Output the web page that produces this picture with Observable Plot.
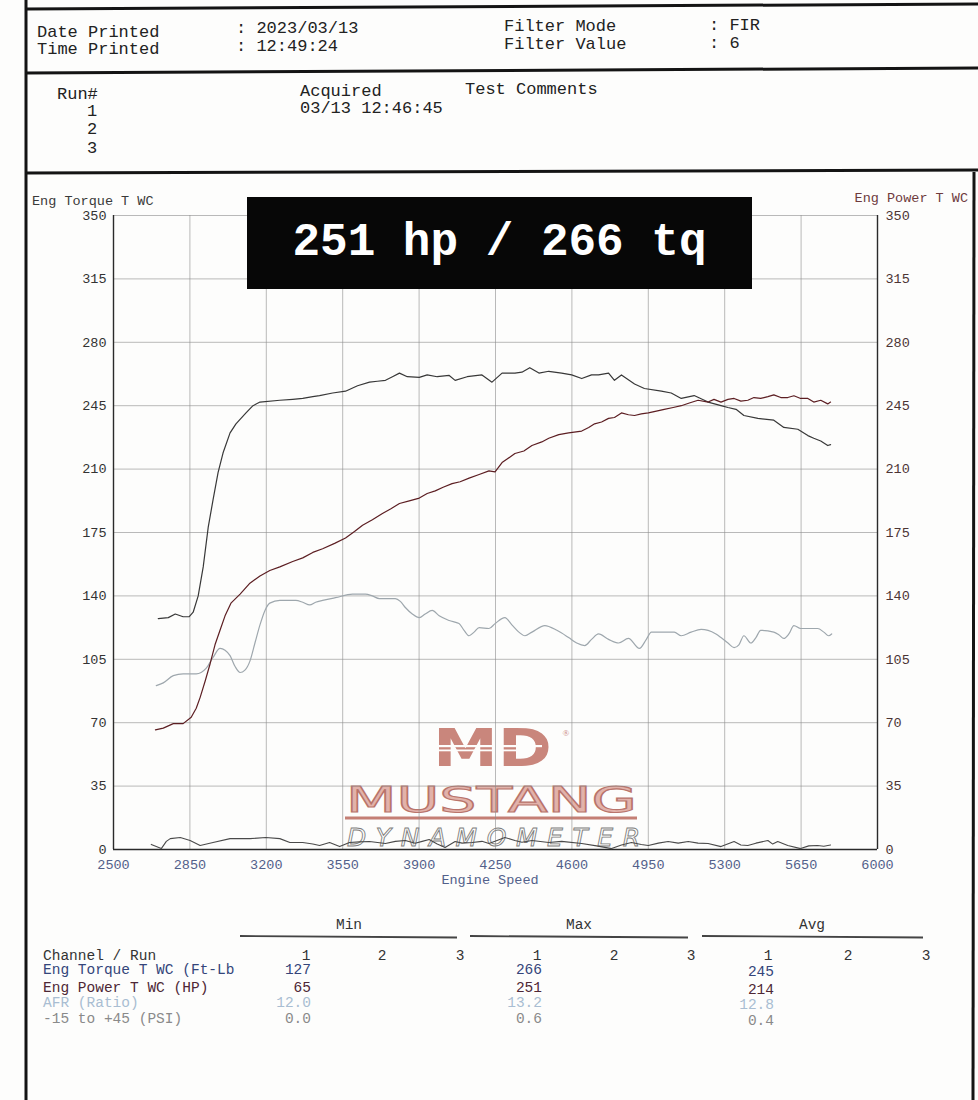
<!DOCTYPE html>
<html><head><meta charset="utf-8">
<script src="https://cdn.jsdelivr.net/npm/d3@7"></script>
<script src="https://cdn.jsdelivr.net/npm/@observablehq/plot@0.6"></script>
<style>
html,body{margin:0;padding:0;background:#fff;}
#page{position:relative;width:978px;height:1100px;overflow:hidden;background:#fdfdfc;}
#bg{position:absolute;left:0;top:0;}
#chart{position:absolute;left:0;top:180px;}
#banner{position:absolute;left:247px;top:197px;width:505px;height:92px;background:#070707;color:#fff;font:bold 46px "Liberation Mono","DejaVu Sans Mono",monospace;display:flex;align-items:center;justify-content:center;white-space:pre;}
</style></head>
<body><div id="page"><svg id="bg"></svg><div id="chart"></div><div id="banner"></div></div>
<script>
// ---------- data ----------
const bannerText = "251 hp / 266 tq";
const headerLabels = ["Date Printed", "Time Printed"];
const headerValues = [": 2023/03/13", ": 12:49:24"];
const filterLabels = ["Filter Mode", "Filter Value"];
const filterValues = [": FIR", ": 6"];
const runNumbers = ["1", "2", "3"];
const runAcquired = ["03/13 12:46:45", "", ""];

const xTicks = [2500, 2850, 3200, 3550, 3900, 4250, 4600, 4950, 5300, 5650, 6000];
const yTicks = [0, 35, 70, 105, 140, 175, 210, 245, 280, 315, 350];

const torqueRpm = [2705,2751,2783,2819,2847,2865,2888,2911,2934,2956,2979,3002,3034,3061,3107,3139,3171,3262,3321,3367,3413,3444,3504,3563,3618,3673,3709,3746,3778,3810,3846,3901,3937,3983,4038,4065,4120,4188,4234,4280,4339,4371,4407,4449,4494,4553,4599,4645,4690,4722,4768,4795,4827,4887,4932,5010,5055,5101,5160,5224,5283,5315,5352,5388,5452,5525,5571,5635,5681,5708,5740,5772,5785];
const torqueFtLb = [127.5,128,130,128.5,128.5,131,140,156,178,193,208,219,230,235,241,245,247,248,248.5,249,250,250.6,252,253,256,258,258.5,259,261,263,261,260.6,262,261,261.7,259,261,262,258,263,263,263.5,266,263,264,263,262,260,262,262,263,259,262,257,254.5,253,252,249,250.6,247,245,244,243,239.6,238,237,233,232,228.5,227,225.5,223,223.5];

const powerRpm = [2692,2728,2774,2819,2856,2879,2897,2920,2943,2965,2988,3011,3038,3080,3125,3171,3216,3262,3321,3367,3413,3458,3513,3563,3604,3641,3686,3732,3769,3810,3855,3901,3937,3974,4010,4051,4088,4129,4175,4220,4248,4280,4339,4380,4417,4462,4494,4540,4585,4645,4677,4704,4736,4768,4795,4827,4859,4887,4918,4950,4987,5023,5064,5101,5138,5178,5224,5251,5283,5315,5343,5374,5406,5434,5465,5498,5525,5557,5589,5617,5648,5681,5708,5740,5772,5785];
const powerHp = [66,67,69.5,69.5,73,78,84,93,102.7,113,121,129,136,141,147,151,154,156,159,161,164,166,169,172,175.5,179,182,185.5,188,191,192.5,194,196.5,198,200,202,203,205,207,209,208.5,213.6,218.6,220,223,225,227,229,230,231,233,235,236,238,238.5,241,240,239.6,240.5,241,242,243,244,245,246.5,248,247,248.5,247,248.5,249,247.5,248,249.5,249,250,251,249.5,249.5,250.5,249,249,247,248,246,247];

const afrRpm = [2696,2728,2774,2819,2879,2924,2956,2988,3011,3034,3057,3080,3102,3125,3148,3171,3194,3216,3262,3335,3367,3399,3426,3458,3517,3595,3654,3686,3718,3791,3814,3837,3869,3901,3928,3960,3992,4038,4083,4106,4129,4152,4175,4220,4248,4293,4325,4357,4385,4417,4476,4531,4585,4622,4659,4690,4722,4768,4814,4859,4909,4941,4964,5069,5101,5146,5192,5224,5260,5283,5315,5343,5365,5388,5420,5443,5465,5525,5548,5571,5594,5617,5648,5726,5754,5776,5790];
const afrTrace = [90.5,92,96,97,97,100,106,111,110,107,101,97.7,99,104,114,124,132,136,137.5,137.5,136.5,135,136.5,137.5,139,141,141,140,138.5,138.5,137,133.6,130,128,130,132,129,126.4,124.7,121,118,120,122.5,122,124.7,128,124,120,118,120,123.6,121,117,114,112.6,116,119,116,114,116.5,111,116,120,120,118,120,121.5,121,119,117,114,111.5,113,118,114,117,121,120,118.5,116.5,119,123.6,122,122,120,118,119];

const boostRpm = [2673,2719,2742,2760,2806,2851,2897,2956,3034,3125,3198,3262,3308,3367,3413,3444,3490,3536,3581,3627,3673,3746,3791,3837,3882,3914,3946,3983,4019,4065,4097,4143,4188,4220,4257,4293,4339,4371,4417,4494,4553,4645,4713,4782,4827,4873,4918,4950,4996,5041,5087,5133,5178,5224,5283,5343,5374,5406,5443,5498,5520,5543,5589,5648,5685,5726,5754,5785];
const boostTrace = [2.8,0.5,4.5,6,6.6,5,2.2,3.9,6,6,6.6,6,3.9,3.9,3,2.2,3.9,1.6,3.9,4.2,4.4,3.3,4.5,5,3.5,4.5,5.5,3,1.1,4.4,3.5,3.9,4.5,3.3,5,6.6,5,4,5,3.9,4.5,3.3,2,0.5,2.5,3.9,2.8,2.2,3.5,4.4,3.5,4.4,3.5,3.3,1.6,4.4,2.5,2.2,3.5,5,3,4.4,2.2,0.5,2,2.2,1.8,2.5];

const statGroups = ["Min", "Max", "Avg"];
const runColumns = ["1", "2", "3"];
const channelNames = ["Eng Torque T WC (Ft-Lb", "Eng Power T WC (HP)", "AFR (Ratio)", "-15 to +45 (PSI)"];
const minValues = ["127", "65", "12.0", "0.0"];
const maxValues = ["266", "251", "13.2", "0.6"];
const avgValues = ["245", "214", "12.8", "0.4"];

// ---------- styling ----------
const MONO = '"Liberation Mono","Courier New","DejaVu Sans Mono",monospace';
const channelColors = ["#34457a", "#4e2735", "#a9bdd2", "#8a8a8a"];
const torqueColor = "#383838", powerColor = "#5c1e22", afrColor = "#9ea7ad", boostColor = "#4a4a4a";

document.getElementById("banner").textContent = bannerText;

// ---------- background page (borders, header, logo, table) ----------
const svg = d3.select("#bg").attr("width", 978).attr("height", 1100);
const ink = "#141414";
const hline = (x1, y1, x2, y2, w, c) => svg.append("line").attr("x1", x1).attr("y1", y1).attr("x2", x2).attr("y2", y2).attr("stroke", c || ink).attr("stroke-width", w);
hline(26, 9, 978, 4, 3);
hline(26, 73, 978, 68, 3);
hline(26, 173, 978, 170, 3);
hline(26, 0, 26, 1100, 3);
hline(974, 172, 973, 1100, 3);

const txt = (s, x, y, o = {}) => svg.append("text").text(s).attr("x", x).attr("y", y)
  .attr("dominant-baseline", "central").attr("font-family", o.font || MONO)
  .attr("font-size", o.size || 17).attr("fill", o.fill || "#222")
  .attr("text-anchor", o.anchor || "start").attr("font-style", o.style || null)
  .attr("font-weight", o.weight || null);

headerLabels.forEach((s, i) => txt(s, 37, 32 + i * 17));
headerValues.forEach((s, i) => txt(s, 236, 28 + i * 18));
filterLabels.forEach((s, i) => txt(s, 504, 26 + i * 18));
filterValues.forEach((s, i) => txt(s, 709, 25 + i * 18));
txt("Run#", 57, 94);
runNumbers.forEach((s, i) => txt(s, 92, 111 + i * 18.5, {anchor: "middle"}));
txt("Acquired", 300, 91);
runAcquired.forEach((s, i) => s && txt(s, 300, 108 + i * 18));
txt("Test Comments", 465, 89);

// axis titles
txt("Eng Torque T WC", 32, 201, {size: 13.5, fill: "#3a3a3a"});
txt("Eng Power T WC", 968, 198, {size: 13.5, fill: "#6e3a3c", anchor: "end"});
txt("Engine Speed", 490, 880, {size: 13.5, fill: "#52608a", anchor: "middle"});

// watermark logo
const SANS = '"DejaVu Sans",sans-serif';
const logo = svg.append("g");
logo.append("text").text("MD").attr("x", 433).attr("y", 765.5)
  .attr("font-family", SANS).attr("font-weight", "bold").attr("font-size", 52)
  .attr("textLength", 119).attr("lengthAdjust", "spacingAndGlyphs").attr("fill", "#c9867c");
logo.append("rect").attr("x", 430).attr("y", 745).attr("width", 112).attr("height", 2.2).attr("fill", "#fdfdfc");
logo.append("rect").attr("x", 430).attr("y", 749.5).attr("width", 90).attr("height", 1.8).attr("fill", "#fdfdfc");
logo.append("text").text("®").attr("x", 566).attr("y", 733).attr("font-size", 9).attr("fill", "#c9867c").attr("text-anchor", "middle").attr("dominant-baseline", "central");
logo.append("text").text("MUSTANG").attr("x", 346).attr("y", 812)
  .attr("font-family", SANS).attr("font-size", 36).attr("textLength", 291).attr("lengthAdjust", "spacingAndGlyphs")
  .attr("fill", "#e2b2aa").attr("stroke", "#b9746b").attr("stroke-width", 1.1);
logo.append("rect").attr("x", 345).attr("y", 816.5).attr("width", 292).attr("height", 3).attr("fill", "#c47f75");
logo.append("text").text("DYNAMOMETER").attr("x", 347).attr("y", 846)
  .attr("font-family", SANS).attr("font-size", 25).attr("font-style", "italic")
  .attr("textLength", 293).attr("lengthAdjust", "spacing")
  .attr("fill", "#fdfdfc").attr("stroke", "#7d7d7d").attr("stroke-width", 0.9);

// stats table
const groupCenters = [349, 579, 812];
const groupRules = [[240, 457], [470, 688], [702, 923]];
const runCenters = [[306, 382, 460], [537, 614, 691], [768, 848, 926]];
const valueRight = [311, 542, 774];
const TS = 14.5;
statGroups.forEach((g, i) => {
  txt(g, groupCenters[i], 925, {anchor: "middle", size: TS, fill: "#333"});
  hline(groupRules[i][0], 936, groupRules[i][1], 937.5, 1.8, "#444");
  runColumns.forEach((r, j) => txt(r, runCenters[i][j], 956, {anchor: "middle", size: TS, fill: "#333"}));
});
txt("Channel / Run", 43, 956, {size: TS, fill: "#333"});
const rowY = [970, 988, 1003, 1019];
channelNames.forEach((c, k) => {
  txt(c, 43, rowY[k], {size: TS, fill: channelColors[k]});
  [minValues, maxValues, avgValues].forEach((vals, i) => txt(vals[k], valueRight[i], rowY[k] + (i === 2 ? 2 : 0), {anchor: "end", size: TS, fill: channelColors[k]}));
});

// ---------- chart ----------
const toRows = (xs, ys) => xs.map((x, i) => ({rpm: x, v: ys[i]}));
const torque = toRows(torqueRpm, torqueFtLb);
const power = toRows(powerRpm, powerHp);
const afr = toRows(afrRpm, afrTrace);
const boost = toRows(boostRpm, boostTrace);

const chart = Plot.plot({
  width: 978, height: 720,
  marginLeft: 113, marginRight: 101, marginTop: 35, marginBottom: 51,
  style: {background: "transparent", fontFamily: MONO, fontSize: "13.5px", overflow: "visible"},
  x: {domain: [2500, 6000]},
  y: {domain: [0, 350]},
  marks: [
    Plot.gridX(xTicks, {stroke: "#8c8c8c", strokeOpacity: 0.6, strokeWidth: 1}),
    Plot.gridY(yTicks, {stroke: "#8c8c8c", strokeOpacity: 0.6, strokeWidth: 1}),
    Plot.ruleX([2500, 6000], {stroke: "#2a2a2a", strokeWidth: 1.4}),
    Plot.ruleY([0], {stroke: "#2a2a2a", strokeWidth: 1.4}),
    Plot.axisX(xTicks, {tickSize: 0, tickPadding: 10, fill: "#52608a", label: null, tickFormat: d => String(d)}),
    Plot.axisY(yTicks, {anchor: "left", tickSize: 0, tickPadding: 7, fill: "#333", label: null, tickFormat: d => String(d)}),
    Plot.axisY(yTicks, {anchor: "right", tickSize: 0, tickPadding: 8, fill: "#4c3434", label: null, tickFormat: d => String(d)}),
    Plot.line(boost, {x: "rpm", y: "v", stroke: boostColor, strokeWidth: 1.1, curve: "linear"}),
    Plot.line(afr, {x: "rpm", y: "v", stroke: afrColor, strokeWidth: 1.2, curve: "monotone-x"}),
    Plot.line(torque, {x: "rpm", y: "v", stroke: torqueColor, strokeWidth: 1.2, curve: "linear"}),
    Plot.line(power, {x: "rpm", y: "v", stroke: powerColor, strokeWidth: 1.2, curve: "linear"})
  ]
});
document.getElementById("chart").appendChild(chart);
</script>
</body></html>
